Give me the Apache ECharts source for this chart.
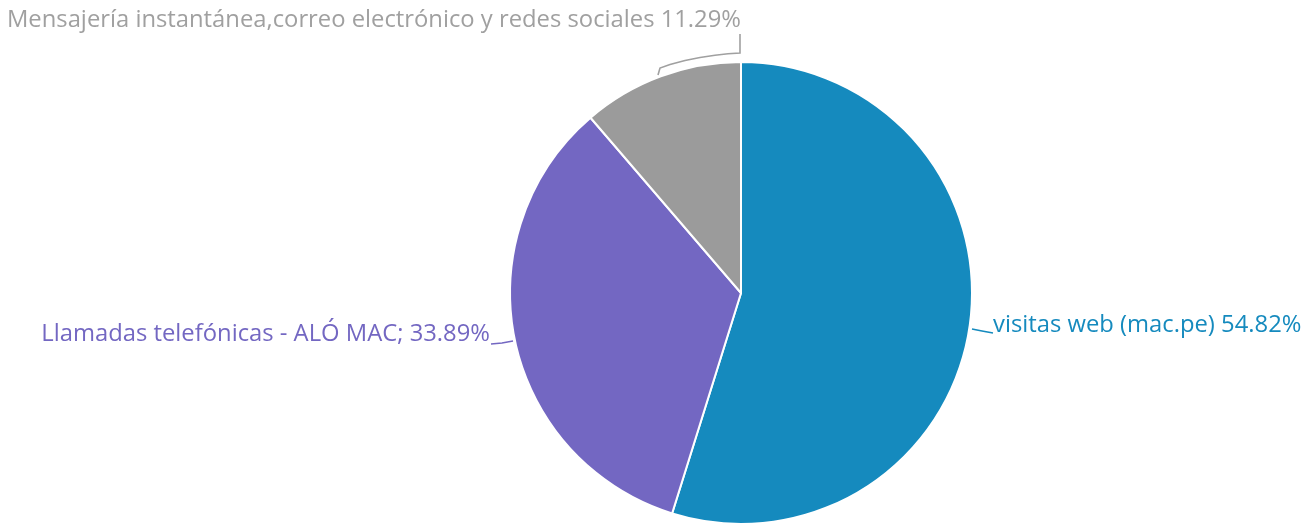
<!DOCTYPE html>
<html><head><meta charset="utf-8">
<script src="https://cdn.jsdelivr.net/npm/echarts@6/dist/echarts.min.js"></script>
<style>html,body{margin:0;padding:0;background:#fff}#c{width:1315px;height:525px}</style>
</head><body><div id="c"></div>
<script>
const categories = ['visitas web (mac.pe)', 'Llamadas telefónicas - ALÓ MAC;', 'Mensajería instantánea,correo electrónico y redes sociales'];
const values = [54.82, 33.89, 11.29];
const colors = ['#158ABE', '#7367C2', '#9B9B9B'];
const labelColors = ['#158ABE', '#7367C2', '#A0A0A0'];

const chart = echarts.init(document.getElementById('c'));
chart.setOption({
  animation: false,
  series: [{
    type: 'pie',
    center: [741, 293],
    radius: 231,
    startAngle: 90,
    clockwise: true,
    data: categories.map((n, i) => ({
      name: n, value: values[i],
      itemStyle: {color: colors[i]},
      label: {color: labelColors[i]},
      labelLine: {lineStyle: {color: labelColors[i]}}
    })),
    itemStyle: {borderColor: '#fff', borderWidth: 2},
    label: {
      formatter: p => p.name + ' ' + p.value.toFixed(2) + '%',
      fontFamily: 'Open Sans', fontSize: 23.8,
      overflow: 'none'
    },
    labelLine: {length: 6, length2: 16, lineStyle: {width: 1.6}},
    labelLayout: function (p) {
      if (p.dataIndex === 0) {
        return {x: 993, y: 325, align: 'left', verticalAlign: 'middle',
          labelLinePoints: [[972, 329], [982, 331], [993, 333]]};
      }
      if (p.dataIndex === 1) {
        return {x: 490, y: 334, align: 'right', verticalAlign: 'middle',
          labelLinePoints: [[513, 341], [502, 343], [491, 344]]};
      }
      if (p.dataIndex === 2) {
        return {x: 741, y: 20, align: 'right', verticalAlign: 'middle',
          labelLinePoints: [[658, 75], [660, 68], [670, 64.5], [685, 60.5], [700, 57.5], [715, 55.3], [728, 53.8], [740, 53], [740, 34]]};
      }
    }
  }]
});
</script></body></html>
